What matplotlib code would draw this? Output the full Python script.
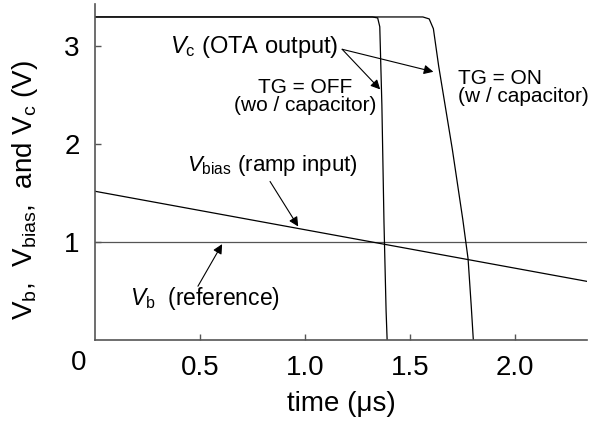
import matplotlib.pyplot as plt

plt.rcParams["font.family"] = ["Liberation Sans", "DejaVu Sans"]
plt.rcParams["mathtext.fontset"] = "custom"
plt.rcParams["mathtext.rm"] = "Liberation Sans"
plt.rcParams["mathtext.it"] = "Liberation Sans:italic"

# ramp input and reference
t_bias = [0.0, 2.34]
v_bias = [1.52, 0.60]
t_ref = [0.0, 2.34]
v_ref = [1.0, 1.0]

# OTA output, TG = OFF (no capacitor)
t_off = [0.0, 1.32, 1.345, 1.355, 1.365, 1.375, 1.385, 1.39]
v_off = [3.30, 3.30, 3.29, 3.20, 2.40, 1.20, 0.30, 0.0]

# OTA output, TG = ON (with capacitor)
t_on = [0.0, 1.56, 1.59, 1.61, 1.635, 1.70, 1.75, 1.775, 1.79, 1.80]
v_on = [3.30, 3.30, 3.28, 3.18, 2.80, 1.95, 1.23, 0.83, 0.35, 0.0]

xticks = [0.5, 1.0, 1.5, 2.0]
xticklabels = ["0.5", "1.0", "1.5", "2.0"]
yticks = [1, 2, 3]

fig = plt.figure(figsize=(5.97, 4.23), dpi=100)
ax = fig.add_axes([0.159, 0.196, 0.824, 0.794])

lw = 0.9
ax.plot(t_ref, v_ref, color="#555555", lw=lw)
ax.plot(t_bias, v_bias, color="black", lw=lw)
ax.plot(t_off, v_off, color="black", lw=lw)
ax.plot(t_on, v_on, color="black", lw=lw)

ax.set_xlim(0, 2.34)
ax.set_ylim(0, 3.43)
ax.spines["top"].set_visible(False)
ax.spines["right"].set_visible(False)
for s in ["left", "bottom"]:
    ax.spines[s].set_color("#555555")
    ax.spines[s].set_linewidth(1.2)

ax.set_xticks(xticks)
ax.set_xticklabels(xticklabels)
ax.set_yticks(yticks)
ax.tick_params(direction="in", length=4, width=1, color="#555555", labelsize=20)
ax.tick_params(axis="x", pad=11)
ax.tick_params(axis="y", pad=11)
ax.text(-0.033, -0.068, "0", transform=ax.transAxes, fontsize=20, ha="center", va="center")

ax.set_xlabel("time (μs)", fontsize=20, labelpad=7)
ax.set_ylabel(r"V$_{\mathrm{b}}$,  V$_{\mathrm{bias}}$,  and V$_{\mathrm{c}}$ (V)", fontsize=20)
ax.yaxis.set_label_coords(-0.112, 0.446)

arrow = dict(arrowstyle="-|>", color="black", lw=0.8, mutation_scale=14, shrinkA=0, shrinkB=0)

ax.text(0.357, 2.99, r"$\mathit{V}_{\mathrm{c}}$ (OTA output)", fontsize=17, va="center")
ax.annotate("", xy=(1.357, 2.56), xytext=(1.176, 2.97), arrowprops=arrow)
ax.annotate("", xy=(1.61, 2.74), xytext=(1.176, 2.97), arrowprops=arrow)
ax.text(1.0, 2.49, "TG = OFF\n(wo / capacitor)", fontsize=15, ha="center", va="center", linespacing=0.95)
ax.text(1.729, 2.58, "TG = ON\n(w / capacitor)", fontsize=15, ha="left", va="center", linespacing=0.95)

ax.text(0.438, 1.78, r"$\mathit{V}_{\mathrm{bias}}$ (ramp input)", fontsize=16, va="center")
ax.annotate("", xy=(0.967, 1.16), xytext=(0.833, 1.62), arrowprops=arrow)

ax.text(0.167, 0.42, r"$\mathit{V}_{\mathrm{b}}$  (reference)", fontsize=16.5, va="center")
ax.annotate("", xy=(0.605, 0.98), xytext=(0.49, 0.55), arrowprops=arrow)

fig.savefig("out.png", dpi=100)
